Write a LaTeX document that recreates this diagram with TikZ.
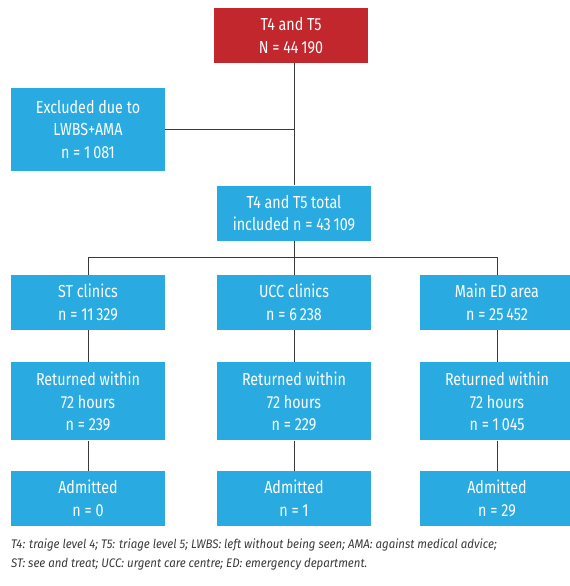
\documentclass[tikz,border=0pt]{standalone}
\usepackage{fontspec}
\setmainfont{Fira Sans}[FakeStretch=0.82]
\newfontfamily\notefont{Fira Sans}[FakeStretch=0.92]
\usepackage{tikz}
\usetikzlibrary{positioning, calc}
\definecolor{colorTop}{HTML}{C1272D}
\definecolor{colorBox}{HTML}{29ABE2}
\definecolor{colorLine}{HTML}{3A3A3A}
\tikzset{
  flowbox/.style={fill=colorBox, text=white, minimum width=154bp, minimum height=55bp,
    align=center, inner sep=2bp, font=\fontsize{17.5}{22.5}\selectfont},
  topbox/.style={flowbox, fill=colorTop},
  link/.style={draw=colorLine, line width=0.8bp}
}

\begin{document}
\begin{tikzpicture}[x=1bp, y=-1bp, node distance=30bp]
\useasboundingbox (0,0) rectangle (570,586);
\node[topbox] (all) at (291,35.5) {T4 and T5\\N = 44\,190};
\node[flowbox, minimum height=83bp] (excl) at (88,129.5) {Excluded due to\\LWBS+AMA\\n = 1\,081};
\node[flowbox] (total) at (294,213) {T4 and T5 total\\included n = 43\,109};
\node[flowbox] (st) at (88,302.5) {ST clinics\\n = 11\,329};
\node[flowbox] (ucc) at (294,302.5) {UCC clinics\\n = 6\,238};
\node[flowbox] (main) at (497,302.5) {Main ED area\\n = 25\,452};
\node[flowbox, minimum height=78bp, below=32bp of st] (stret) {Returned within\\72 hours\\n = 239};
\node[flowbox, minimum height=78bp, below=32bp of ucc] (uccret) {Returned within\\72 hours\\n = 229};
\node[flowbox, minimum height=78bp, below=32bp of main] (mainret) {Returned within\\72 hours\\n = 1\,045};
\node[flowbox, below=30bp of stret] (stadm) {Admitted\\n = 0};
\node[flowbox, below=30bp of uccret] (uccadm) {Admitted\\n = 1};
\node[flowbox, below=30bp of mainret] (mainadm) {Admitted\\n = 29};
\node[anchor=north west, align=left, inner sep=0pt, text=colorLine,
  font=\notefont\fontsize{12.5}{19}\selectfont\itshape] (notes) at (11,539)
  {T4: traige level 4; T5: triage level 5; LWBS: left without being seen; AMA: against medical advice;\\
   ST: see and treat; UCC: urgent care centre; ED: emergency department.};
% connectors
\draw[link] (all.south -| total) -- (total.north);
\draw[link] (excl.east) -- (excl.east -| total);
\coordinate (split) at ($(total.south)+(0,17)$);
\draw[link] (total.south) -- (ucc.north);
\draw[link] (st.north) |- (split) -| (main.north);
\foreach \col in {st,ucc,main}{
  \draw[link] (\col.south) -- (\col ret.north);
  \draw[link] (\col ret.south) -- (\col adm.north);
}
\end{tikzpicture}
\end{document}
